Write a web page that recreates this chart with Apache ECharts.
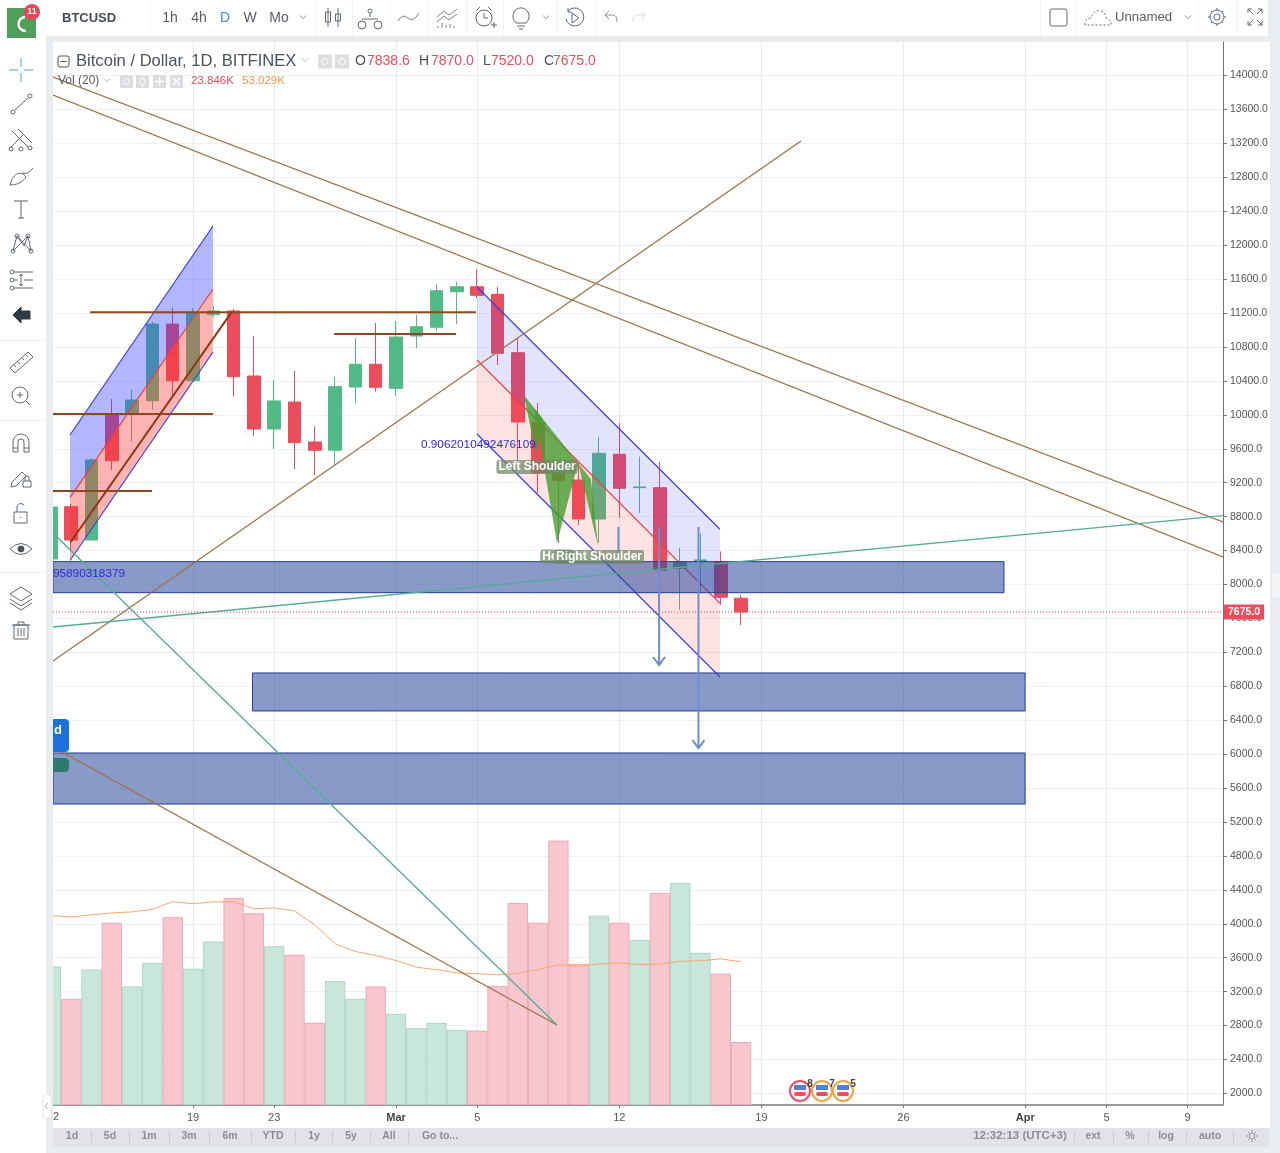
<!DOCTYPE html>
<html lang="en">
<head>
    <meta charset="UTF-8">
    <title>BTCUSD</title>
    <script src="https://cdn.jsdelivr.net/npm/echarts@6/dist/echarts.min.js"></script>
    <style type="text/css">
        html, body { margin: 0; padding: 0; background: #e9edf0; }
        #chart { width: 1280px; height: 1153px; }
    </style>
</head>
<body>
<div id="chart"></div>
<script type="text/javascript">
    // day numbers count from 19 Feb = 0
    const dayNumbers = [-7, -6, -5, -4, -3, -2, -1, 0, 1, 2, 3, 4, 5, 6, 7, 8, 9, 10, 11, 12, 13, 14, 15, 16, 17, 18, 19, 20, 21, 22, 23, 24, 25, 26, 27];
    const opens = [8300, 8917, 8524, 9998, 10010, 10166, 11070, 10402, 11180, 11224, 10458, 9833, 10151, 9680, 9582, 10328, 10596, 10312, 10929, 11032, 11451, 11510, 11421, 10732, 9915, 9314, 9232, 8772, 9535, 9141, 9141, 8191, 8269, 8269, 7838.6];
    const closes = [8913, 8524, 9467, 9459, 10175, 11070, 10402, 11200, 11224, 10449, 9833, 10163, 9672, 9582, 10332, 10596, 10324, 10917, 11039, 11463, 11510, 11409, 10725, 9915, 9314, 9225, 8772, 9547, 9134, 9150, 8171, 8269, 8290, 7849, 7675];
    const lows = [8250, 8400, 8524, 9350, 9683, 10060, 10214, 10400, 11150, 10214, 9750, 9598, 9361, 9290, 9408, 10143, 10272, 10225, 10788, 10990, 11071, 11377, 10587, 9467, 9079, 8489, 8702, 8490, 8784, 8843, 8100, 7700, 7900, 7760, 7520];
    const highs = [8950, 8950, 9490, 10187, 10293, 11100, 11259, 11259, 11280, 11250, 10930, 10412, 10517, 9860, 10449, 10905, 11083, 11106, 11176, 11542, 11570, 11716, 11510, 10905, 10139, 9320, 9432, 9742, 9903, 9507, 9447, 8430, 8600, 8390, 7870];
    const volumes = [52.4, 40.2, 51.3, 69.0, 44.9, 53.8, 71.1, 51.6, 61.9, 78.4, 72.6, 60.1, 56.9, 31.1, 46.9, 40.2, 44.9, 34.5, 29.2, 31.1, 28.5, 28.2, 45.1, 76.5, 69.0, 100.1, 53.4, 71.7, 69.0, 62.5, 80.3, 84.0, 57.6, 49.7, 23.846];
    const volumeMA = [71.7, 71.2, 72.0, 72.7, 73.1, 74.1, 77.0, 76.2, 76.9, 76.9, 74.3, 74.6, 73.5, 68.2, 61.0, 58.1, 56.6, 54.7, 52.2, 51.2, 50.0, 49.7, 49.3, 49.9, 51.2, 53.1, 52.4, 53.4, 53.8, 53.1, 53.4, 54.4, 54.6, 55.3, 54.2];

    const priceTicks = [14000, 13600, 13200, 12800, 12400, 12000, 11600, 11200, 10800, 10400, 10000, 9600, 9200, 8800, 8400, 8000, 7600, 7200, 6800, 6400, 6000, 5600, 5200, 4800, 4400, 4000, 3600, 3200, 2800, 2400, 2000];
    const dayTicks = [0, 4, 10, 14, 21, 28, 35, 41, 45, 49];
    const dayTickLabels = ['19', '23', '{b|Mar}', '5', '12', '19', '26', '{b|Apr}', '5', '9'];

    // drawings, in [day, price, day, price]
    const thinBrownLines = [
        [-6.897, 13982, 50.74, 8737],
        [-6.897, 13770, 50.74, 8324],
        [-6.897, 7098, 29.95, 13228],
        [-6.897, 6084, 17.93, 2807]
    ];
    const tealLines = [
        [-6.897, 7499, 50.74, 8811],
        [-6.897, 8607, 17.93, 2807]
    ];
    const levelLines = [
        [-5.07, 11209, 13.94, 11209],
        [6.95, 10953, 12.96, 10953],
        [-6.897, 10010, 0.99, 10010],
        [-6.897, 9102, -2.02, 9102]
    ];
    const heavyLines = [[-6.02, 8504, 1.92, 11216]];
    const stubLines = [[20.96, 8678, 20.96, 8312]];
    const lastPriceLine = [[-6.897, 7675, 50.74, 7675]];
    // day0, day1, upper0, upper1, middle0, middle1, lower0, lower1
    const risingChannel = [[-6.06, 0.985, 9762, 12226, 9023, 11483, 8283, 10741]];
    const fallingChannel = [[13.99, 25.96, 11507, 8651, 10646, 7778, 9774, 6909]];
    // day0, day1, price top, price bottom
    const zones = [
        [-6.897, 39.95, 8269, 7903],
        [2.93, 40.99, 6957, 6509],
        [-6.897, 40.99, 6014, 5412]
    ];
    const noteBoxes = [[-7.3, -6.11, 6414, 6025]];
    const noteBoxes2 = [[-7.3, -6.11, 5955, 5790]];
    // day, price from, price to
    const arrows = [[22.96, 8678, 7051], [24.9, 8678, 6072]];
    const shoulderPattern = [
        [[16.3, 10234], [16.9, 9526], [17.24, 9951]],
        [[16.8, 10080], [17.93, 8489], [18.97, 9432]],
        [[18.97, 9432], [19.95, 8454], [19.6, 9243]]
    ];
    const patternLabels = [
        ['Left Shoulder', 16.95, 9385],
        ['Head', 17.93, 8330],
        ['Right Shoulder', 20.0, 8324]
    ];
    const ratioLabels = [
        ['0.9062010492476109', 11.23, 9644],
        ['95890318379', -6.9, 8130],
        ['d', -6.85, 6280]
    ];

    const upColor = '#53b987';
    const downColor = '#eb4d5c';
    const font = '"Liberation Sans", Arial, sans-serif';

    function lineSeries(rows, color, width, z) {
        return {
            type: 'custom', coordinateSystem: 'cartesian2d', clip: true, silent: true, z: z, data: rows,
            encode: {x: 0, y: 1},
            renderItem: function (params, api) {
                const a = api.coord([api.value(0), api.value(1)]);
                const b = api.coord([api.value(2), api.value(3)]);
                return {type: 'line', shape: {x1: a[0], y1: a[1], x2: b[0], y2: b[1]}, style: {stroke: color, lineWidth: width, fill: null}};
            }
        };
    }

    function lastPriceSeries(z) {
        return {
            type: 'custom', coordinateSystem: 'cartesian2d', silent: true, z: z, data: lastPriceLine,
            encode: {x: 0, y: 1},
            renderItem: function (params, api) {
                const a = api.coord([api.value(0), api.value(1)]);
                const b = api.coord([api.value(2), api.value(3)]);
                return {
                    type: 'group', children: [
                        {type: 'line', shape: {x1: a[0], y1: a[1], x2: b[0], y2: b[1]}, style: {stroke: '#e8404f', lineWidth: 1, lineDash: [1, 2]}},
                        {
                            type: 'text', x: b[0] + 1, y: b[1],
                            style: {
                                text: api.value(3).toFixed(1), align: 'left', verticalAlign: 'middle',
                                font: 'bold 10.5px ' + font, fill: '#ffffff', backgroundColor: downColor, padding: [2, 4]
                            }
                        }
                    ]
                };
            }
        };
    }

    function channelSeries(rows, blueFill, redFill, z) {
        return {
            type: 'custom', coordinateSystem: 'cartesian2d', clip: true, silent: true, z: z, data: rows,
            encode: {x: 0, y: 2},
            renderItem: function (params, api) {
                const d0 = api.value(0), d1 = api.value(1);
                const up0 = api.coord([d0, api.value(2)]), up1 = api.coord([d1, api.value(3)]);
                const mid0 = api.coord([d0, api.value(4)]), mid1 = api.coord([d1, api.value(5)]);
                const low0 = api.coord([d0, api.value(6)]), low1 = api.coord([d1, api.value(7)]);
                const edge = function (a, b, color) {
                    return {type: 'line', shape: {x1: a[0], y1: a[1], x2: b[0], y2: b[1]}, style: {stroke: color, lineWidth: 1.2}};
                };
                return {
                    type: 'group', children: [
                        {type: 'polygon', shape: {points: [up0, up1, mid1, mid0]}, style: {fill: blueFill}},
                        {type: 'polygon', shape: {points: [mid0, mid1, low1, low0]}, style: {fill: redFill}},
                        edge(up0, up1, '#3b3fe0'), edge(mid0, mid1, '#f0394a'), edge(low0, low1, '#3b3fe0')
                    ]
                };
            }
        };
    }

    function boxSeries(rows, fill, stroke, radius, z) {
        return {
            type: 'custom', coordinateSystem: 'cartesian2d', clip: true, silent: true, z: z, data: rows,
            encode: {x: 0, y: 2},
            renderItem: function (params, api) {
                const a = api.coord([api.value(0), api.value(2)]);
                const b = api.coord([api.value(1), api.value(3)]);
                return {
                    type: 'rect',
                    shape: {x: a[0], y: a[1], width: b[0] - a[0], height: b[1] - a[1], r: radius},
                    style: {fill: fill, stroke: stroke, lineWidth: 1}
                };
            }
        };
    }

    function arrowSeries(rows, z) {
        return {
            type: 'custom', coordinateSystem: 'cartesian2d', clip: true, silent: true, z: z, data: rows,
            encode: {x: 0, y: 1},
            renderItem: function (params, api) {
                const a = api.coord([api.value(0), api.value(1)]);
                const b = api.coord([api.value(0), api.value(2)]);
                const style = {stroke: '#6f8dcf', lineWidth: 2, fill: null};
                return {
                    type: 'group', children: [
                        {type: 'line', shape: {x1: a[0], y1: a[1], x2: b[0], y2: b[1]}, style: style},
                        {type: 'polyline', shape: {points: [[b[0] - 6, b[1] - 8], b, [b[0] + 6, b[1] - 8]]}, style: style}
                    ]
                };
            }
        };
    }

    function patternSeries(z) {
        return {
            type: 'custom', coordinateSystem: 'cartesian2d', clip: true, silent: true, z: z,
            data: shoulderPattern.map(function (tri) { return tri[0]; }),
            encode: {x: 0, y: 1},
            renderItem: function (params, api) {
                const pts = shoulderPattern[params.dataIndex].map(function (p) { return api.coord(p); });
                return {type: 'polygon', shape: {points: pts}, style: {fill: 'rgba(70,158,48,0.8)'}};
            }
        };
    }

    function textSeries(rows, styleFor, z) {
        return {
            type: 'custom', coordinateSystem: 'cartesian2d', clip: true, silent: true, z: z,
            data: rows.map(function (r) { return [r[1], r[2]]; }),
            encode: {x: 0, y: 1},
            renderItem: function (params, api) {
                const p = api.coord([api.value(0), api.value(1)]);
                return {
                    type: 'text', x: p[0], y: p[1],
                    style: Object.assign({text: rows[params.dataIndex][0], verticalAlign: 'middle'}, styleFor(rows[params.dataIndex][0]))
                };
            }
        };
    }

    // ---------- screen furniture around the chart ----------
    const g = [];
    const iconList = [];
    const ink = '#5f6872';

    function panel(x, y, w, h, fill, z) {
        g.push({type: 'rect', z: z || -5, shape: {x: x, y: y, width: w, height: h}, style: {fill: fill}});
    }
    function txt(s, x, y, f, color, align, z) {
        g.push({type: 'text', z: z || 100, style: {text: s, x: x, y: y, font: f + ' ' + font, fill: color, textAlign: align || 'left', textVerticalAlign: 'middle'}});
    }
    function icon(d, color, fill, dash, width) {
        iconList.push({d: d, color: color || ink, fill: fill || 'none', dash: dash || null, width: width || 1});
    }
    function c(x, y, r) {
        return 'M' + (x - r) + ' ' + y + 'a' + r + ' ' + r + ' 0 1 0 ' + (2 * r) + ' 0a' + r + ' ' + r + ' 0 1 0 ' + (-2 * r) + ' 0';
    }
    function chev(x, y) {
        return 'M' + (x - 3) + ' ' + (y - 1.5) + 'L' + x + ' ' + (y + 1.5) + 'L' + (x + 3) + ' ' + (y - 1.5);
    }
    function square(x, y, s, color) {
        g.push({type: 'rect', z: 99, shape: {x: x, y: y, width: s, height: s}, style: {fill: color}});
    }

    panel(0, 0, 1268, 36, '#ffffff');
    // these two sit above the series: they hide the part of the first bar left of the plot
    panel(0, 0, 46, 1153, '#ffffff', 50);
    panel(46, 36, 7, 1117, '#e9edf0', 50);
    panel(1223, 42, 47, 1063, '#ffffff');
    panel(53, 1105, 1217, 23, '#ffffff');
    panel(53, 1128, 1217, 19, '#e2e3e6');
    [150, 315, 352, 390, 428, 466, 503, 557, 596, 1040, 1076, 1198, 1237].forEach(function (x) {
        panel(x, 0, 1, 36, '#f1f3f5');
    });
    [340, 420, 572].forEach(function (y) { panel(0, y, 46, 1, '#f1f3f5', 51); });

    // logo
    g.push({type: 'rect', z: 99, shape: {x: 7, y: 8, width: 29, height: 30}, style: {fill: '#4f9e5c'}});
    icon('M25 17A7 7 0 1 0 26 31', '#ffffff', 'none', null, 2.5);
    g.push({type: 'circle', z: 101, shape: {cx: 32, cy: 12, r: 8}, style: {fill: '#e8475a'}});
    g.push({type: 'text', z: 102, style: {text: '11', x: 32, y: 12, font: 'bold 9px ' + font, fill: '#fff', textAlign: 'center', textVerticalAlign: 'middle'}});

    // top toolbar
    txt('BTCUSD', 62, 18, 'bold 13px', '#444c55');
    txt('1h', 170, 18, '14px', '#555d66', 'center');
    txt('4h', 199, 18, '14px', '#555d66', 'center');
    txt('D', 225, 18, '14px', '#3d8fd1', 'center');
    txt('W', 250, 18, '14px', '#555d66', 'center');
    txt('Mo', 279, 18, '14px', '#555d66', 'center');
    icon(chev(303, 17), '#8a9199');
    icon('M328 8V27M338 8V27M325.5 12H330.5V22H325.5ZM335.5 14H340.5V21H335.5Z');
    icon(c(370, 11, 2) + 'M370 13V17M362 19H378' + c(362, 25, 4) + c(378, 25, 4));
    icon('M398 21Q403 13 408 18T419 13', '#7b838c');
    icon('M437 17L444 11L449 15L457 9M437 22L444 16L449 20L457 14M438 28V26M442 28V23M446 28V25M450 28V24M454 28V26', '#7b838c');
    icon(c(484, 18, 8) + 'M484 13V18H488M476 11L480 7M492 11L488 7M491 25H497M494 22V28');
    icon('M516 23Q511 18 514 12A8 8 0 0 1 528 12Q531 18 526 23ZM517 26H525M519 29H523');
    icon(chev(546, 17), '#8a9199');
    icon('M568 11A9 9 0 1 1 566 19M568 8V12H572M572 13L579 18L572 23Z');
    icon('M605 15L609 11M605 15L609 19M605 15H613Q617 15 617 22', '#8a9199');
    icon('M645 15L641 11M645 15L641 19M645 15H637Q633 15 633 22', '#d8dbdf');
    g.push({type: 'rect', z: 100, shape: {x: 1050, y: 9, width: 17, height: 17, r: 2}, style: {stroke: '#666', fill: 'none'}});
    icon('M1085 25Q1084 19 1091 18Q1094 9 1101 11Q1106 13 1106 18Q1112 20 1111 25Z', '#666', 'none', [2, 2]);
    txt('Unnamed', 1115, 17, '13.2px', '#555d66');
    icon(chev(1188, 17), '#8a9199');
    icon(c(1217, 17, 3) + c(1217, 17, 7) + 'M1217 8V10M1217 24V26M1208 17H1210M1224 17H1226M1211 11L1212 12M1223 23L1222 22M1223 11L1222 12M1211 23L1212 22');
    icon('M1248 13V9H1252M1248 9L1253 14M1262 13V9H1258M1262 9L1257 14M1248 21V25H1252M1248 25L1253 20M1262 21V25H1258M1262 25L1257 20');

    // left toolbar
    icon('M21 58V67M21 73V82M9 70H18M24 70H33', '#4ba3d8');
    icon(c(13, 112, 2) + c(30, 96, 2) + 'M15 110L28 98');
    icon('M12 131L28 147M18 129L32 143M10 148L24 134' + c(11, 149, 2) + c(21, 149, 2) + c(30, 148, 2));
    icon('M10 185C12 175 20 169 26 177C22 183 16 185 10 185ZM22 173Q28 175 33 168');
    icon('M14 201H28M21 201V218M18 218H24', '#59616a');
    icon('M13 251L17 236L24 246L28 236L31 251M17 236L31 251M13 251L28 236' + c(13, 251, 2) + c(17, 236, 2) + c(28, 236, 2) + c(31, 251, 2));
    icon('M14 272H33M14 280H18M24 280H33M14 288H33M21 274V286M19 276L21 274L23 276M19 284L21 286L23 284' + c(12, 272, 2) + c(12, 280, 2) + c(12, 288, 2));
    icon('M13 315L21 307V311H30V319H21V323Z', '#2f3a46', '#2f3a46');
    icon('M10 368L28 352L33 357L15 373ZM14 365L16 367M18 361.5L20 364M22 358L24 360M26 355L28 357');
    icon(c(20, 395, 8) + 'M26 401L30 405M17 395H23M20 392V398');
    icon('M13 452V442A8 8 0 0 1 29 442V452H24V442A3 3 0 0 0 18 442V452ZM13 448H18M24 448H29');
    icon('M12 482L22 472L26 476L16 486L11 487ZM23 481H31V487H23ZM25 481V478A2 2 0 0 1 29 478V481');
    icon('M14 512H27V523H14ZM17 512V507A4 4 0 0 1 24 505M20.5 517V518');
    icon('M10 549Q21 538 32 549Q21 560 10 549Z');
    icon(c(21, 549, 3), '#4a525b', '#4a525b');
    icon('M21 587L32 594L21 601L10 594ZM10 599L21 606L32 599M10 603L21 610L32 603');
    icon('M14 625H28V639H14ZM12 625H30M18 625V622H24V625M18 628V636M21 628V636M24 628V636');

    // chart legend
    g.push({type: 'rect', z: 99, shape: {x: 58, y: 56, width: 11, height: 11, r: 2}, style: {stroke: '#555', fill: '#fff'}});
    icon('M60.5 61.5H66.5', '#555');
    txt('Bitcoin / Dollar, 1D, BITFINEX', 76, 61.5, '16.6px', '#4a525b');
    icon(chev(305, 60), '#b0b5ba');
    square(318, 54.5, 14, '#dcdde0');
    square(335, 54.5, 14, '#dcdde0');
    icon(c(325, 61.5, 3), '#ffffff');
    icon(c(342, 61.5, 3) + 'M342 56.5V58M342 65V66.5M337 61.5H338.5M345.5 61.5H347', '#ffffff');
    txt('O', 355, 61.5, '14px', '#4a525b');
    txt('7838.6', 367, 61.5, '14px', downColor);
    txt('H', 419, 61.5, '14px', '#4a525b');
    txt('7870.0', 431, 61.5, '14px', downColor);
    txt('L', 483, 61.5, '14px', '#4a525b');
    txt('7520.0', 491, 61.5, '14px', downColor);
    txt('C', 544, 61.5, '14px', '#4a525b');
    txt('7675.0', 553, 61.5, '14px', downColor);
    txt('Vol (20)', 58, 81, '12px', '#555d66');
    icon(chev(107, 80), '#b0b5ba');
    square(120, 75, 13, '#dcdde0');
    square(136, 75, 13, '#dcdde0');
    square(153, 75, 13, '#dcdde0');
    square(170, 75, 13, '#dcdde0');
    icon(c(126.5, 81.5, 3), '#ffffff');
    icon(c(142.5, 81.5, 3) + 'M142.5 76.5V78M142.5 85V86.5', '#ffffff');
    icon('M159.5 77V86M155 81.5H164', '#ffffff', 'none', null, 1.5);
    icon('M173 78L180 85M180 78L173 85', '#ffffff', 'none', null, 1.5);
    txt('23.846K', 191, 81, '11.5px', downColor);
    txt('53.029K', 242, 81, '11.5px', '#f5964f');

    // the 12 Feb label is cut by the left edge of the plot
    txt('2', 53, 1117, '11px', '#555');

    // bottom toolbar
    [['1d', 72], ['5d', 110], ['1m', 149], ['3m', 189], ['6m', 230], ['YTD', 273], ['1y', 314], ['5y', 351], ['All', 389], ['Go to...', 440],
        ['ext', 1093], ['%', 1130], ['log', 1166], ['auto', 1210]].forEach(function (b) {
        txt(b[0], b[1], 1136, 'bold 10.5px', '#8b8e93', 'center');
    });
    txt('12:32:13 (UTC+3)', 1020, 1136, 'bold 11.5px', '#8b8e93', 'center');
    [91, 129, 169, 209, 251, 295, 332, 370, 408, 1074, 1113, 1148, 1186, 1233].forEach(function (x) {
        panel(x, 1131, 1, 12, '#c9cbcf');
    });
    icon(c(1252, 1136, 3) + 'M1252 1130V1132M1252 1140V1142M1246 1136H1248M1256 1136H1258M1248 1132L1249 1133M1256 1140L1255 1139M1256 1132L1255 1133M1248 1140L1249 1139', '#8b8e93');

    // side handles
    g.push({type: 'rect', z: 99, shape: {x: 43, y: 1095, width: 8, height: 23, r: 3}, style: {fill: '#fff', stroke: '#e4e7ea'}});
    icon('M48 1103L45 1106L48 1109', '#b0b5ba');
    g.push({type: 'rect', z: 100, shape: {x: 1272, y: 573, width: 8, height: 24, r: 2}, style: {fill: '#f4f5f6'}});

    // event flags on the time scale
    [[800, '#e8505f', '8'], [822, '#f2a33c', '7'], [843, '#f2a33c', '5']].forEach(function (ev) {
        g.push({type: 'circle', z: 100, shape: {cx: ev[0], cy: 1091, r: 10}, style: {fill: '#fff', stroke: ev[1], lineWidth: 2}});
        g.push({type: 'rect', z: 100, shape: {x: ev[0] - 6, y: 1085, width: 12, height: 5}, style: {fill: '#4a86d8'}});
        g.push({type: 'rect', z: 100, shape: {x: ev[0] - 6, y: 1092, width: 12, height: 4, r: 2}, style: {fill: '#e8505f'}});
        txt(ev[2], ev[0] + 10, 1084, 'bold 10px', '#444', 'center', 103);
    });

    const chart = echarts.init(document.getElementById('chart'));
    chart.setOption({
        animation: false,
        backgroundColor: '#e9edf0',
        grid: {left: 53, right: 57, top: 42, bottom: 48, show: true, backgroundColor: '#ffffff', borderWidth: 0},
        xAxis: {
            type: 'value', min: -6.897, max: 50.74,
            axisLine: {onZero: false, lineStyle: {color: '#9a9a9a', width: 2}},
            axisTick: {customValues: dayTicks, length: 3, lineStyle: {color: '#777'}},
            splitLine: {show: true, lineStyle: {color: '#e6ebf0', width: 1}},
            axisLabel: {
                customValues: dayTicks, margin: 7, fontSize: 11, fontFamily: font, color: '#555',
                formatter: function (v) { return dayTickLabels[dayTicks.indexOf(v)]; },
                rich: {b: {fontWeight: 'bold', fontSize: 11, fontFamily: font, color: '#444'}}
            }
        },
        yAxis: [{
            type: 'value', position: 'right', min: 1864, max: 14395,
            axisLine: {show: true, onZero: false, lineStyle: {color: '#6f6f6f', width: 1}},
            axisTick: {show: true, customValues: priceTicks, length: 4, lineStyle: {color: '#777'}},
            splitLine: {show: true, lineStyle: {color: '#eef1f4', width: 1}},
            axisLabel: {
                customValues: priceTicks, margin: 7, padding: [2, 0, 0, 0], fontSize: 10.5, fontFamily: font, color: '#555',
                formatter: function (v) { return v.toFixed(1); }
            }
        }, {
            type: 'value', show: false, min: 0, max: 402.4, splitLine: {show: false}
        }],
        series: [
            {
                type: 'bar', yAxisIndex: 1, barWidth: 20.3, z: 1, silent: true,
                data: dayNumbers.map(function (d, i) {
                    const up = closes[i] >= opens[i];
                    return {
                        value: [d, volumes[i]],
                        itemStyle: {
                            color: up ? '#c9e6da' : '#f7c6cf',
                            borderColor: up ? '#afd6c6' : '#ebabb6',
                            borderWidth: 1
                        }
                    };
                })
            },
            {
                type: 'line', yAxisIndex: 1, z: 2, silent: true, symbol: 'none',
                lineStyle: {color: '#f7a76c', width: 1},
                data: dayNumbers.map(function (d, i) { return [d, volumeMA[i]]; })
            },
            {
                type: 'candlestick', z: 3, silent: true, barWidth: 13,
                itemStyle: {color: upColor, color0: downColor, borderColor: upColor, borderColor0: downColor, borderWidth: 1},
                data: dayNumbers.map(function (d, i) { return [d, opens[i], closes[i], lows[i], highs[i]]; })
            },
            channelSeries(risingChannel, 'rgba(50,60,255,0.37)', 'rgba(255,50,50,0.37)', 4),
            channelSeries(fallingChannel, 'rgba(60,70,240,0.15)', 'rgba(255,60,60,0.15)', 4),
            boxSeries(zones, 'rgba(42,71,155,0.55)', '#1f3f8f', 0, 5),
            lineSeries(thinBrownLines, '#9c7448', 1.3, 6),
            lineSeries(tealLines, '#55ab98', 1.3, 6),
            lineSeries(levelLines, '#8a4a1e', 2, 6),
            lineSeries(heavyLines, '#8c3a12', 2, 6),
            lineSeries(stubLines, '#6f8dcf', 2, 6),
            boxSeries(noteBoxes, '#1a70dc', null, 4, 6),
            boxSeries(noteBoxes2, '#2f7a6e', null, 4, 6),
            lastPriceSeries(6),
            patternSeries(7),
            arrowSeries(arrows, 8),
            textSeries(ratioLabels, function (s) {
                if (s === 'd') return {fill: '#fff', font: 'bold 13px ' + font, align: 'left'};
                return {fill: '#2a2ae0', font: '11.8px ' + font, align: 'left'};
            }, 9),
            textSeries(patternLabels, function () {
                return {
                    fill: '#ffffff', font: 'bold 12px ' + font, align: 'center',
                    backgroundColor: 'rgba(112,135,100,0.72)', padding: [1, 2], borderRadius: 3
                };
            }, 9),
            {
                type: 'custom', coordinateSystem: 'none', silent: true, z: 100,
                data: iconList.map(function (ic, i) { return [i]; }),
                renderItem: function (params) {
                    const ic = iconList[params.dataIndex];
                    return {
                        type: 'path', shape: {pathData: ic.d},
                        style: {stroke: ic.color, fill: ic.fill === 'none' ? null : ic.fill, lineWidth: ic.width, lineDash: ic.dash}
                    };
                }
            }
        ],
        graphic: g
    });
</script>
</body>
</html>
